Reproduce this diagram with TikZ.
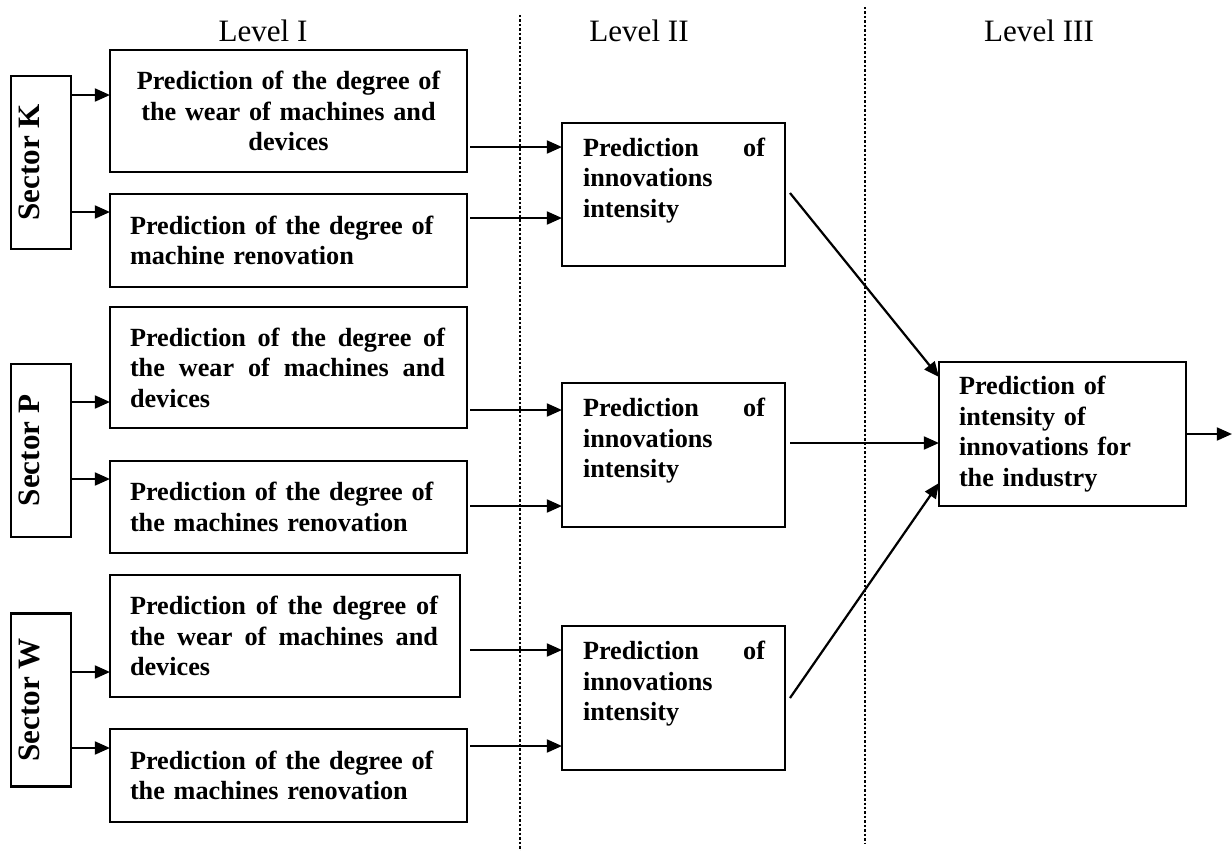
\documentclass[tikz,border=0pt]{standalone}
\usepackage{fontspec}
\setmainfont{Liberation Serif}
\usetikzlibrary{arrows.meta,calc}
\newlength\pxu \setlength\pxu{0.45pt}
\newcommand\jl[2]{\leavevmode\hbox to #1\pxu{#2}}
\newcommand\lowstrut{\rule[-15.3pt]{0pt}{15.3pt}}
\begin{document}
\begin{tikzpicture}[x=0.45pt,y=-0.45pt,
  every node/.style={inner sep=0pt, outer sep=0pt},
  box/.style={draw, line width=1pt, font=\fontsize{11.8}{13.75}\selectfont\bfseries},
  sbox/.style={draw, line width=1pt, rotate=90, minimum width=173\pxu, minimum height=60\pxu,
    font=\fontsize{14}{16}\selectfont\bfseries, text depth=11pt},
  lvl/.style={anchor=base, font=\fontsize{14}{16}\selectfont},
  arr/.style={line width=1pt, -{Triangle[length=6.8pt,width=5.8pt]}},
  sep/.style={line width=1.2pt, dash pattern=on 1.1pt off 0.9pt}
]
\useasboundingbox (0,0) rectangle (1232,851);

% level labels
\node[lvl] (L1) at (263,41) {Level I};
\node[lvl] (L2) at (639,41) {Level II};
\node[lvl] (L3) at (1039,41) {Level III};

% separators
\draw[sep] (520,15) -- (520,851);
\draw[sep] (865,7) -- (865,843);

% sector boxes
\node[sbox] (SK) at (41,162.5) {Sector K};
\node[sbox] (SP) at (41,450.5) {Sector P};
\node[sbox] (SW) at (41,700) {Sector W};

% level I boxes
\node[box, minimum width=357\pxu, minimum height=122\pxu, text width=317\pxu, align=center] (K1) at (288.5,111)
  {Prediction of the degree of\\ the wear of machines and\\ devices};
\node[box, minimum width=357\pxu, minimum height=93\pxu, text width=317\pxu, align=left] (K2) at (288.5,240.5)
  {Prediction of the degree of\\ machine renovation};
\node[box, minimum width=357\pxu, minimum height=121\pxu, text width=317\pxu, align=left] (P1) at (288.5,367.5)
  {\jl{315}{Prediction\hfill of\hfill the\hfill degree\hfill of}\\
   \jl{315}{the\hfill wear\hfill of\hfill machines\hfill and}\\ devices};
\node[box, minimum width=357\pxu, minimum height=92\pxu, text width=317\pxu, align=left] (P2) at (288.5,507)
  {Prediction of the degree of\\ the machines renovation};
\node[box, minimum width=350\pxu, minimum height=122\pxu, text width=310\pxu, align=left] (W1) at (285,636)
  {\jl{308}{Prediction\hfill of\hfill the\hfill degree\hfill of}\\
   \jl{308}{the\hfill wear\hfill of\hfill machines\hfill and}\\ devices};
\node[box, minimum width=357\pxu, minimum height=93\pxu, text width=317\pxu, align=left] (W2) at (288.5,775.5)
  {Prediction of the degree of\\ the machines renovation};

% level II boxes
\node[box, minimum width=223\pxu, minimum height=143\pxu, text width=181\pxu, align=left] (KM) at (673.5,194.5)
  {\jl{182}{Prediction\hfill of}\\ innovations\\ intensity\lowstrut};
\node[box, minimum width=223\pxu, minimum height=144\pxu, text width=181\pxu, align=left] (PM) at (673.5,455)
  {\jl{182}{Prediction\hfill of}\\ innovations\\ intensity\lowstrut};
\node[box, minimum width=223\pxu, minimum height=144\pxu, text width=181\pxu, align=left] (WM) at (673.5,698)
  {\jl{182}{Prediction\hfill of}\\ innovations\\ intensity\lowstrut};

% level III box
\node[box, minimum width=247\pxu, minimum height=144\pxu, text width=207\pxu, align=left] (F) at (1062.5,434)
  {Prediction of\\ intensity of\\ innovations for\\ the industry};

% helper coordinates
\coordinate (yk1) at (0,95);
\coordinate (yk2) at (0,212);
\coordinate (yp1) at (0,402);
\coordinate (yp2) at (0,479);
\coordinate (yw1) at (0,672);
\coordinate (yw2) at (0,748);

\draw[arr] (SK.south |- yk1) -- (K1.west |- yk1);
\draw[arr] (SK.south |- yk2) -- (K2.west |- yk2);
\draw[arr] (SP.south |- yp1) -- (P1.west |- yp1);
\draw[arr] (SP.south |- yp2) -- (P2.west |- yp2);
\draw[arr] (SW.south |- yw1) -- (W1.west |- yw1);
\draw[arr] (SW.south |- yw2) -- (W2.west |- yw2);

\coordinate (a1) at (470,147);
\coordinate (a2) at (470,218);
\coordinate (a3) at (470,410);
\coordinate (a4) at (470,506);
\coordinate (a5) at (470,650);
\coordinate (a6) at (470,746);
\draw[arr] (a1) -- (KM.west |- a1);
\draw[arr] (a2) -- (KM.west |- a2);
\draw[arr] (a3) -- (PM.west |- a3);
\draw[arr] (a4) -- (PM.west |- a4);
\draw[arr] (a5) -- (WM.west |- a5);
\draw[arr] (a6) -- (WM.west |- a6);

\coordinate (b1) at (790,193);
\coordinate (b2) at (790,443);
\coordinate (b3) at (790,698);
\draw[arr] (b1) -- ($(F.north west)+(0,15)$);
\draw[arr] (b2) -- (F.west |- b2);
\draw[arr] (b3) -- ($(F.north west)+(0,121)$);

\coordinate (out) at (1232,434);
\draw[arr] (F.east) -- (out);
\end{tikzpicture}
\end{document}
